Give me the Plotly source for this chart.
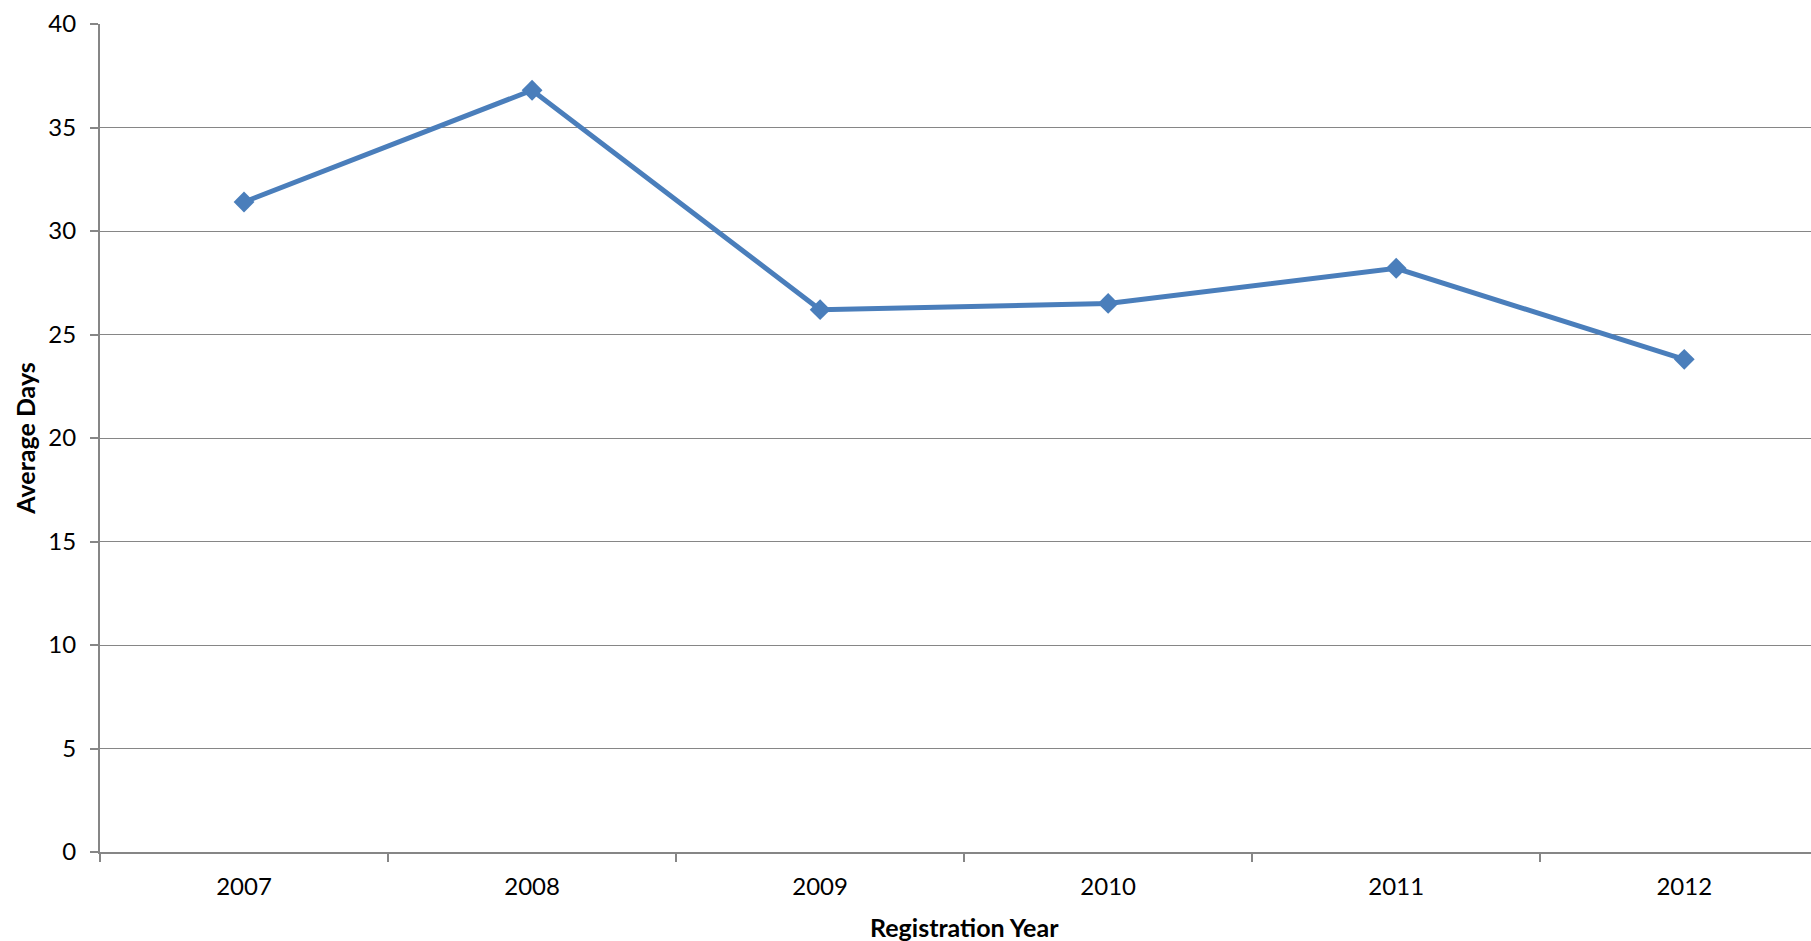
import plotly.graph_objects as go

years = ["2007", "2008", "2009", "2010", "2011", "2012"]
average_days = [31.4, 36.8, 26.2, 26.5, 28.2, 23.8]
y_ticks = [0, 5, 10, 15, 20, 25, 30, 35, 40]

FONT = "Lato, 'Open Sans', sans-serif"
AXIS_GREY = "#868686"
LINE_BLUE = "#4A7EBB"

fig = go.Figure(
    go.Scatter(
        x=years,
        y=average_days,
        mode="lines+markers",
        line=dict(color=LINE_BLUE, width=5),
        marker=dict(symbol="diamond", size=16, color=LINE_BLUE),
        cliponaxis=False,
    )
)

fig.update_layout(
    width=1811,
    height=941,
    margin=dict(l=100, r=0, t=24, b=89),
    paper_bgcolor="white",
    plot_bgcolor="white",
    showlegend=False,
    font=dict(family=FONT, size=24, color="black"),
)

# the last category slot runs slightly past the right edge of the page
fig.update_xaxes(
    type="category",
    range=[-0.5, 5.44],
    tickson="boundaries",
    ticks="outside",
    ticklen=8,
    tickwidth=1.5,
    tickcolor=AXIS_GREY,
    showgrid=False,
    showline=True,
    linecolor=AXIS_GREY,
    linewidth=2,
    tickfont=dict(family=FONT, size=24),
    ticklabelstandoff=12,
)

# x-axis title centred on the full six-category span
fig.add_annotation(
    text="<b>Registration Year</b>",
    xref="x", x=2.5,
    yref="paper", y=-0.09, yanchor="middle",
    showarrow=False,
    font=dict(family=FONT, size=25, color="black"),
)

fig.update_yaxes(
    range=[0, 40],
    tickvals=y_ticks,
    ticks="outside",
    ticklen=8,
    tickwidth=1.5,
    tickcolor=AXIS_GREY,
    showgrid=True,
    gridcolor=AXIS_GREY,
    gridwidth=1.3,
    zeroline=False,
    showline=True,
    linecolor=AXIS_GREY,
    linewidth=2,
    tickfont=dict(family=FONT, size=24),
    ticklabelstandoff=9,
    title=dict(text="<b>Average Days</b>", font=dict(family=FONT, size=25), standoff=6),
)

fig.write_html("out.html")
